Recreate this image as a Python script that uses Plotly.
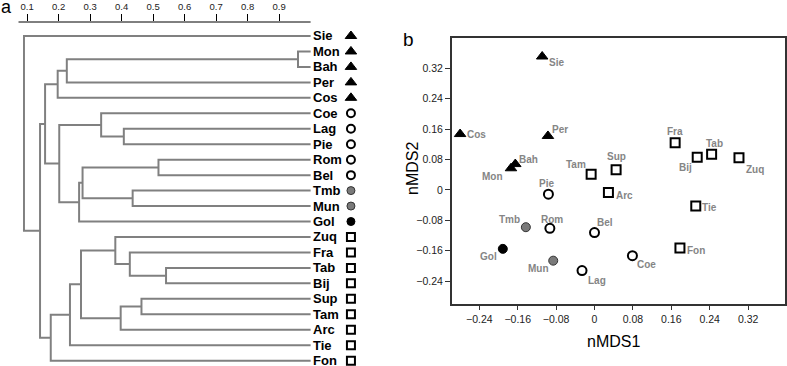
import plotly.graph_objects as go

# ---------------- Data: dendrogram (panel a) ----------------
leaves = ["Sie", "Mon", "Bah", "Per", "Cos", "Coe", "Lag", "Pie", "Rom", "Bel", "Tmb",
          "Mun", "Gol", "Zuq", "Fra", "Tab", "Bij", "Sup", "Tam", "Arc", "Tie", "Fon"]
leaf_groups = ["tri", "tri", "tri", "tri", "tri", "open", "open", "open", "open", "open", "gray",
               "gray", "black", "sq", "sq", "sq", "sq", "sq", "sq", "sq", "sq", "sq"]
# merges: (name, left child, right child, similarity height)
merge_names = ["A", "B", "C", "D", "E", "F", "G", "H", "I", "J", "K",
               "L", "M", "N", "O", "P", "Q", "R", "S", "T", "Root"]
merge_left = ["Mon", "A", "B", "Lag", "Coe", "Rom", "Tmb", "F", "H", "E", "C",
              "Tab", "Fra", "Zuq", "Sup", "O", "N", "Q", "R", "K", "Sie"]
merge_right = ["Bah", "Per", "Cos", "Pie", "D", "Bel", "Mun", "G", "Gol", "I", "J",
               "Bij", "L", "M", "Tam", "Arc", "P", "Tie", "Fon", "S", "T"]
merge_height = [0.96, 0.226, 0.197, 0.407, 0.335, 0.517, 0.435, 0.276, 0.265, 0.202, 0.157,
                0.541, 0.426, 0.38, 0.463, 0.397, 0.271, 0.236, 0.175, 0.141, 0.090]
dendro_ticks = [0.1, 0.2, 0.3, 0.4, 0.5, 0.6, 0.7, 0.8, 0.9]

# ---------------- Data: nMDS (panel b) ----------------
mds_names = ["Sie", "Cos", "Per", "Bah", "Mon", "Pie", "Tam", "Sup", "Arc", "Fra", "Bij",
             "Tab", "Zuq", "Tie", "Tmb", "Rom", "Bel", "Gol", "Fon", "Mun", "Coe", "Lag"]
mds1 = [-0.109, -0.280, -0.097, -0.165, -0.174, -0.096, -0.007, 0.045, 0.029, 0.168, 0.214,
        0.244, 0.301, 0.211, -0.143, -0.093, 0.000, -0.191, 0.178, -0.086, 0.079, -0.026]
mds2 = [0.351, 0.147, 0.142, 0.068, 0.057, -0.011, 0.041, 0.053, -0.007, 0.124, 0.086,
        0.094, 0.085, -0.042, -0.098, -0.101, -0.112, -0.155, -0.153, -0.186, -0.173, -0.212]
mds_groups = ["tri", "tri", "tri", "tri", "tri", "open", "sq", "sq", "sq", "sq", "sq",
              "sq", "sq", "sq", "gray", "open", "open", "black", "sq", "gray", "open", "open"]
mds_ticks = [-0.24, -0.16, -0.08, 0, 0.08, 0.16, 0.24, 0.32]

# ---------------- Styles ----------------
group_style = {
    "tri": dict(symbol="triangle-up", color="black", line=dict(color="black", width=1)),
    "open": dict(symbol="circle", color="white", line=dict(color="black", width=2)),
    "gray": dict(symbol="circle", color="#7a7a7a", line=dict(color="#333333", width=1)),
    "black": dict(symbol="circle", color="black", line=dict(color="black", width=1)),
    "sq": dict(symbol="square", color="white", line=dict(color="black", width=2)),
}
# label offsets (px, dx right, dy down) for the nMDS labels
label_offset = {
    "Sie": (14, 6), "Cos": (16, 0), "Per": (12, -6), "Bah": (13, -5), "Mon": (-18, 8),
    "Pie": (-2, -11), "Tam": (-15, -10), "Sup": (0, -13), "Arc": (16, 3), "Fra": (0, -11),
    "Bij": (-12, 10), "Tab": (3, -11), "Zuq": (16, 12), "Tie": (14, 2), "Tmb": (-16, -8),
    "Rom": (2, -9), "Bel": (10, -10), "Gol": (-14, 8), "Fon": (16, 2), "Mun": (-15, 8),
    "Coe": (14, 9), "Lag": (15, 10),
}
FONT = "Liberation Sans, Arial"

W, H = 787, 366
fig = go.Figure()

# ---------- dendrogram geometry from merges ----------
pos = {name: (1.0, i) for i, name in enumerate(leaves)}
lx, ly = [], []
for nm, l, r, h in zip(merge_names, merge_left, merge_right, merge_height):
    xl, yl = pos[l]
    xr, yr = pos[r]
    lx += [xl, h, h, xr, None]
    ly += [yl, yl, yr, yr, None]
    pos[nm] = (h, (yl + yr) / 2)

fig.add_trace(go.Scatter(x=lx, y=ly, mode="lines", line=dict(color="#808080", width=2),
                         xaxis="x", yaxis="y", hoverinfo="skip", showlegend=False))

# leaf markers
MARK_X = 1.128
for g in ["tri", "open", "gray", "black", "sq"]:
    idx = [i for i, gg in enumerate(leaf_groups) if gg == g]
    st = group_style[g]
    fig.add_trace(go.Scatter(
        x=[MARK_X] * len(idx), y=idx, mode="markers",
        marker=dict(symbol=st["symbol"], color=st["color"], line=st["line"],
                    size=10 if g == "tri" else 8),
        xaxis="x", yaxis="y", showlegend=False, cliponaxis=False))

annotations = []
for i, name in enumerate(leaves):
    annotations.append(dict(x=1.0, y=i, xref="x", yref="y", text="<b>%s</b>" % name,
                            showarrow=False, xanchor="left", yanchor="middle", xshift=0,
                            font=dict(family=FONT, size=13, color="black")))

# ---------- nMDS scatter ----------
for g in ["tri", "open", "gray", "black", "sq"]:
    idx = [i for i, gg in enumerate(mds_groups) if gg == g]
    st = group_style[g]
    fig.add_trace(go.Scatter(
        x=[mds1[i] for i in idx], y=[mds2[i] for i in idx], mode="markers",
        marker=dict(symbol=st["symbol"], color=st["color"], line=st["line"],
                    size=10 if g == "tri" else 9),
        xaxis="x2", yaxis="y2", showlegend=False, cliponaxis=False))

for nm, xv, yv in zip(mds_names, mds1, mds2):
    dx, dy = label_offset[nm]
    annotations.append(dict(x=xv, y=yv, xref="x2", yref="y2", text="<b>%s</b>" % nm,
                            showarrow=False, xshift=dx, yshift=-dy,
                            xanchor="center", yanchor="middle",
                            font=dict(family=FONT, size=10, color="#858585")))

# titles / panel letters
annotations += [
    dict(x=613 / W, y=1 - 341 / H, xref="paper", yref="paper", text="nMDS1", showarrow=False,
         xanchor="center", yanchor="middle", font=dict(family=FONT, size=16, color="black")),
    dict(x=413 / W, y=1 - 169 / H, xref="paper", yref="paper", text="nMDS2", showarrow=False,
         xanchor="center", yanchor="middle", textangle=-90,
         font=dict(family=FONT, size=16, color="black")),
    dict(x=6 / W, y=1 - 7 / H, xref="paper", yref="paper", text="a", showarrow=False,
         xanchor="center", yanchor="middle", font=dict(family=FONT, size=18, color="black")),
    dict(x=408 / W, y=1 - 39 / H, xref="paper", yref="paper", text="b", showarrow=False,
         xanchor="center", yanchor="middle", font=dict(family=FONT, size=19, color="black")),
]

# ---------- layout ----------
x1_lo, x1_hi = 0.072, 1.16
px_per_unit = 315.0
x1_left_px = 18.3
x1_right_px = x1_left_px + (x1_hi - x1_lo) * px_per_unit
top_px = 22
leaf0_px, leaf_step = 36.0, 15.46
y1_top = (top_px - leaf0_px) / leaf_step
y1_bot = (H - leaf0_px) / leaf_step

fig.update_layout(
    width=W, height=H, margin=dict(l=0, r=0, t=0, b=0),
    paper_bgcolor="white", plot_bgcolor="white",
    font=dict(family=FONT, color="black"),
    xaxis=dict(domain=[x1_left_px / W, x1_right_px / W], range=[x1_lo, x1_hi], side="top",
               anchor="y", tickvals=dendro_ticks, ticktext=[str(t) for t in dendro_ticks],
               ticks="outside", ticklen=7, tickcolor="black", tickwidth=1,
               showgrid=False, zeroline=False, showline=False,
               tickfont=dict(size=9.5, color="#222222")),
    yaxis=dict(domain=[0, 1 - top_px / H], range=[y1_bot, y1_top], visible=False,
               anchor="x"),
    xaxis2=dict(domain=[451.7 / W, 785.3 / W], range=[-0.2975, 0.3975], anchor="y2",
                tickvals=mds_ticks, ticks="outside", ticklen=5, tickcolor="#333333",
                showline=True, mirror=True, linecolor="#333333", linewidth=1.5,
                showgrid=False, zeroline=False,
                tickfont=dict(size=10.5, color="#222222")),
    yaxis2=dict(domain=[1 - 303.5 / H, 1 - 37.5 / H], range=[-0.2987, 0.401], anchor="x2",
                tickvals=mds_ticks, ticks="outside", ticklen=5, tickcolor="#333333",
                showline=True, mirror=True, linecolor="#333333", linewidth=1.5,
                showgrid=False, zeroline=False,
                tickfont=dict(size=10.5, color="#222222")),
    annotations=annotations,
    shapes=[dict(type="line", xref="x", yref="paper", x0=x1_lo, x1=1.0,
                 y0=1 - top_px / H, y1=1 - top_px / H, line=dict(color="black", width=1))],
)

fig.write_html("out.html", config={"displayModeBar": False},
               post_script="document.body.style.margin='0';document.body.style.overflow='hidden';")
